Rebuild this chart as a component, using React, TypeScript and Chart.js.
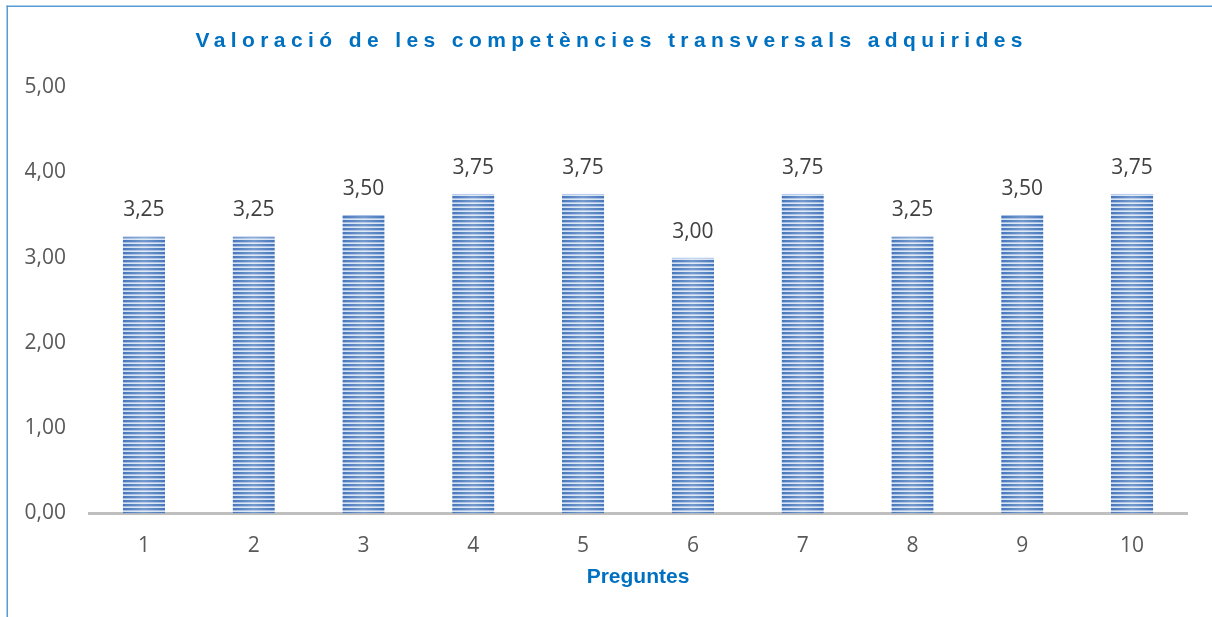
import React, { useEffect, useRef } from 'react';
import { Chart, registerables } from 'chart.js';

Chart.register(...registerables);

const categories: string[] = ['1', '2', '3', '4', '5', '6', '7', '8', '9', '10'];
const values: number[] = [3.25, 3.25, 3.5, 3.75, 3.75, 3.0, 3.75, 3.25, 3.5, 3.75];
const yMin = 0;
const yMax = 5;
const yStep = 1;
const titleText = 'Valoració de les competències transversals adquirides';
const xAxisTitle = 'Preguntes';

const BAR_PCT = 0.385;

const fmt = (v: number) => v.toFixed(2).replace('.', ',');

function makeBarPattern(target: CanvasRenderingContext2D, width: number, left: number) {
  const w = Math.max(1, Math.round(width));
  const c = document.createElement('canvas');
  c.width = w;
  c.height = 4;
  const g = c.getContext('2d') as CanvasRenderingContext2D;
  g.fillStyle = '#d6e2f3';
  g.fillRect(0, 0, w, 4);
  g.fillStyle = '#4677bd';
  g.fillRect(0, 0, w, 2);
  g.fillStyle = 'rgba(70,119,189,0.35)';
  g.fillRect(0, 2, w, 1);
  const grad = g.createLinearGradient(0, 0, w, 0);
  grad.addColorStop(0, 'rgba(255,255,255,0)');
  grad.addColorStop(0.5, 'rgba(255,255,255,0.25)');
  grad.addColorStop(1, 'rgba(255,255,255,0)');
  g.fillStyle = grad;
  g.fillRect(0, 0, w, 4);
  const p = target.createPattern(c, 'repeat') as CanvasPattern;
  try {
    p.setTransform(new DOMMatrix([1, 0, 0, 1, left, 0]));
  } catch (e) {
    /* ignore */
  }
  return p;
}

const framePlugin = {
  id: 'frame',
  beforeDraw(chart: any) {
    const { ctx, width, height } = chart;
    ctx.save();
    ctx.fillStyle = '#ffffff';
    ctx.fillRect(0, 0, width, height);
    ctx.fillStyle = '#5b9bd5';
    ctx.fillRect(6.5, 5.5, 1.5, height);
    ctx.fillRect(6.5, 5.5, width, 1.5);
    ctx.restore();
  },
};

const titlePlugin = {
  id: 'spacedTitle',
  afterDraw(chart: any) {
    const { ctx } = chart;
    const spacing = 5.4;
    ctx.save();
    ctx.font = 'bold 21px "Liberation Sans", Arial, sans-serif';
    (ctx as any).letterSpacing = spacing + 'px';
    ctx.fillStyle = '#0070c0';
    ctx.textAlign = 'left';
    ctx.textBaseline = 'middle';
    const w = ctx.measureText(titleText).width - spacing;
    ctx.fillText(titleText, 609 - w / 2, 41);
    ctx.restore();
  },
};

const valueLabelPlugin = {
  id: 'valueLabels',
  afterDatasetsDraw(chart: any) {
    const { ctx } = chart;
    const meta = chart.getDatasetMeta(0);
    ctx.save();
    ctx.font = '21px "Open Sans", sans-serif';
    ctx.fillStyle = '#404040';
    ctx.textAlign = 'center';
    ctx.textBaseline = 'middle';
    meta.data.forEach((el: any, i: number) => {
      ctx.fillText(fmt(values[i]), el.x, el.y - 26);
    });
    ctx.restore();
  },
};

export default function App() {
  const ref = useRef<HTMLCanvasElement | null>(null);

  useEffect(() => {
    if (!ref.current) return;
    const chart = new Chart(ref.current, {
      type: 'bar',
      data: {
        labels: categories,
        datasets: [
          {
            data: values,
            backgroundColor: (c: any) => {
              const ch = c.chart;
              const xs = ch.scales && ch.scales.x;
              if (!xs || !xs.width || c.type !== 'data') return '#6a93cc';
              const bw = (xs.width / categories.length) * BAR_PCT;
              const left = xs.getPixelForValue(c.dataIndex) - bw / 2;
              return makeBarPattern(ch.ctx, bw, left);
            },
            borderColor: '#a9c1e6',
            borderWidth: { top: 1, left: 0, right: 0, bottom: 0 },
            barPercentage: BAR_PCT,
            categoryPercentage: 1,
          },
        ],
      },
      options: {
        animation: false,
        responsive: true,
        maintainAspectRatio: false,
        layout: { padding: { top: 87, right: 25, bottom: 0, left: 0 } },
        plugins: {
          legend: { display: false },
          title: { display: false },
          tooltip: { enabled: false },
        },
        scales: {
          x: {
            grid: { display: false, drawTicks: false },
            border: { display: true, color: '#bfbfbf', width: 3 },
            ticks: {
              color: '#595959',
              font: { family: '"Open Sans", sans-serif', size: 21 },
              padding: 20,
            },
            title: {
              display: true,
              text: xAxisTitle,
              color: '#0070c0',
              font: { family: '"Liberation Sans", Arial, sans-serif', size: 21, weight: 'bold' },
              padding: { top: 0, bottom: 27 },
            },
            afterFit: (s: any) => {
              s.height = 617 - 513.5;
            },
          },
          y: {
            min: yMin,
            max: yMax,
            grid: { display: false, drawTicks: false },
            border: { display: false },
            ticks: {
              stepSize: yStep,
              color: '#595959',
              font: { family: '"Open Sans", sans-serif', size: 21 },
              padding: 23,
              callback: (v: any) => fmt(Number(v)),
            },
            afterFit: (s: any) => {
              s.width = 89;
            },
          },
        },
      },
      plugins: [framePlugin, titlePlugin, valueLabelPlugin],
    });
    return () => chart.destroy();
  }, []);

  return (
    <div style={{ position: 'absolute', left: 0, top: 0, width: 1212, height: 617 }}>
      <canvas ref={ref} />
    </div>
  );
}
